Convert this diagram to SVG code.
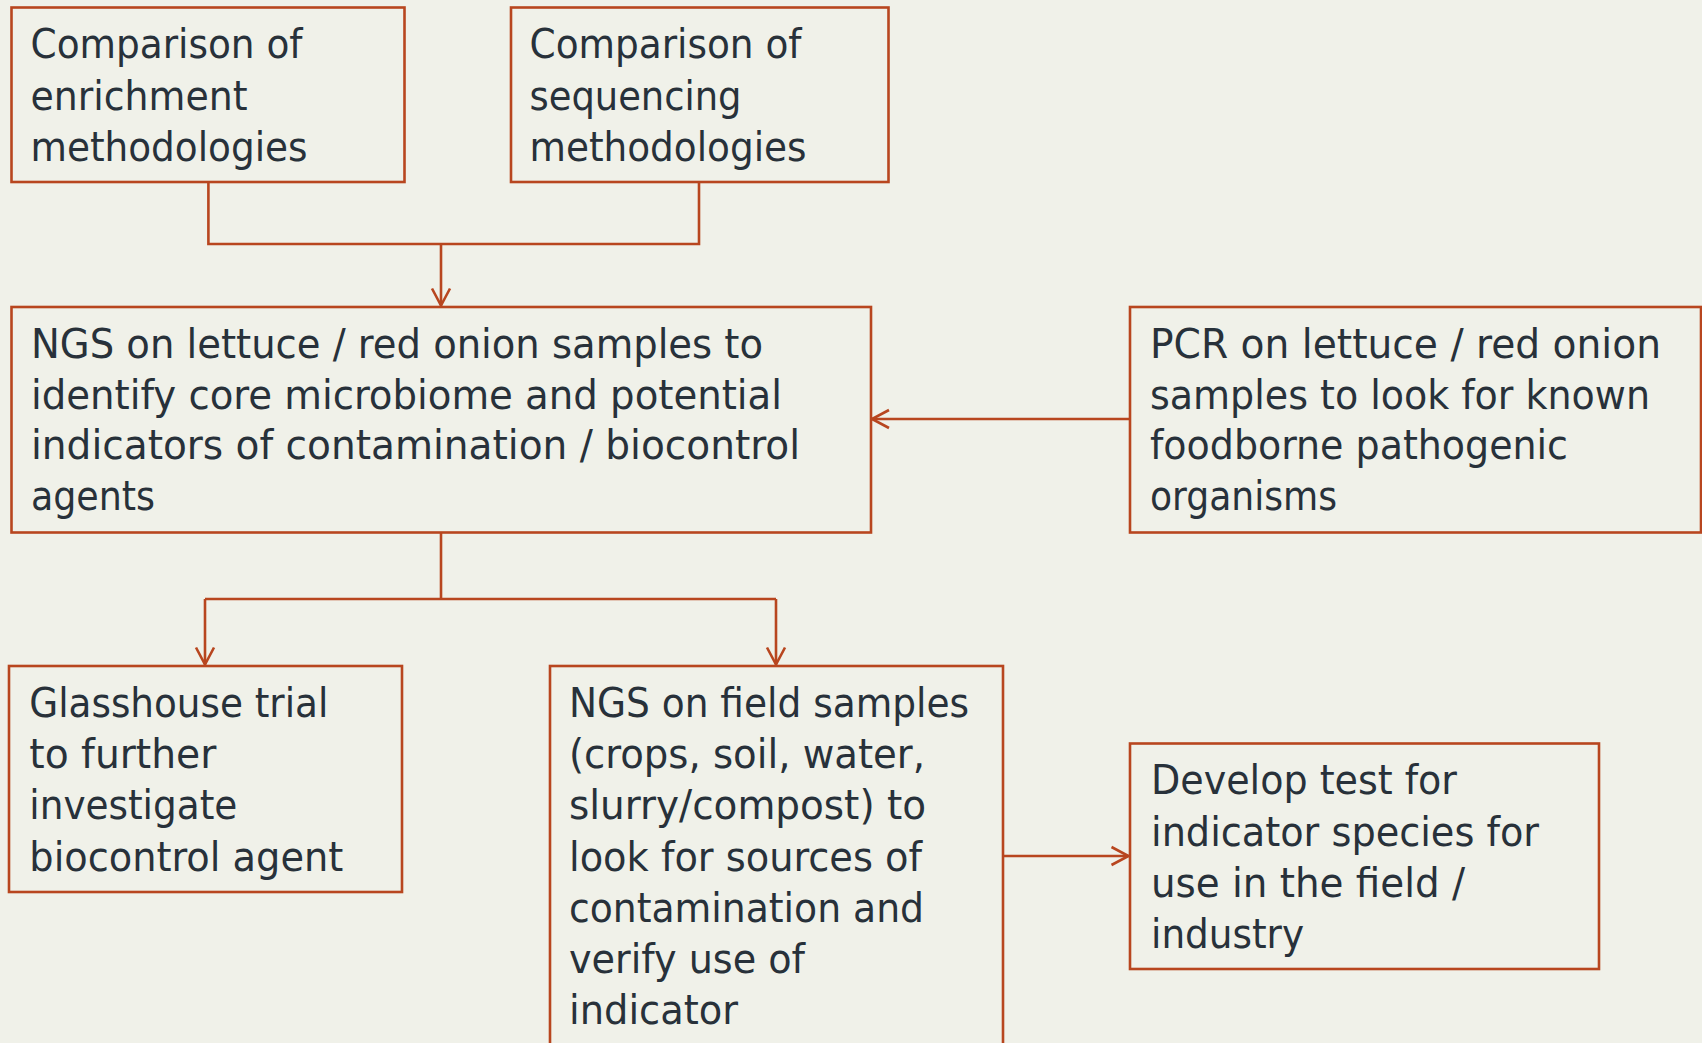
<svg xmlns="http://www.w3.org/2000/svg" width="1702" height="1043" viewBox="0 0 1702 1043">
<style>
.box{fill:#F0F1E9;stroke:#B8461F;stroke-width:2.6}
.t{font-family:"DejaVu Sans Condensed","DejaVu Sans","Liberation Sans",sans-serif;font-stretch:condensed;font-size:40px;fill:#28313A}
.c{fill:none;stroke:#B8461F;stroke-width:2.6}
</style>
<defs>
<marker id="ah" markerUnits="userSpaceOnUse" markerWidth="24" markerHeight="24" viewBox="-20 -12 24 24" refX="0" refY="0" orient="auto">
<path d="M-17,-9 L0,0 L-17,9" fill="none" stroke="#B8461F" stroke-width="2.6"/>
</marker>
</defs>
<rect width="1702" height="1043" fill="#F0F1E9"/>
<g id="connectors">
<path class="c" d="M208.4,182 V244 H699 V182"/>
<path class="c" d="M441,244 V305.5" marker-end="url(#ah)"/>
<path class="c" d="M1130,419 H872" marker-end="url(#ah)"/>
<path class="c" d="M441,532 V599"/>
<path class="c" d="M205,599 H776"/>
<path class="c" d="M205,599 V664.5" marker-end="url(#ah)"/>
<path class="c" d="M776,599 V664.5" marker-end="url(#ah)"/>
<path class="c" d="M1003,856 H1128.5" marker-end="url(#ah)"/>
</g>
<g id="n1">
<rect class="box" x="11.5" y="7.5" width="393" height="174.5"/>
<text class="t"><tspan x="30.5" y="58" textLength="272" lengthAdjust="spacingAndGlyphs">Comparison of</tspan><tspan x="30.5" y="110" textLength="217" lengthAdjust="spacingAndGlyphs">enrichment</tspan><tspan x="30.5" y="161" textLength="277" lengthAdjust="spacingAndGlyphs">methodologies</tspan></text>
</g>
<g id="n2">
<rect class="box" x="511" y="7.5" width="377.5" height="174.5"/>
<text class="t"><tspan x="529.5" y="58" textLength="272" lengthAdjust="spacingAndGlyphs">Comparison of</tspan><tspan x="529.5" y="110" textLength="212" lengthAdjust="spacingAndGlyphs">sequencing</tspan><tspan x="529.5" y="161" textLength="277" lengthAdjust="spacingAndGlyphs">methodologies</tspan></text>
</g>
<g id="n3">
<rect class="box" x="11.5" y="307" width="859.5" height="225.5"/>
<text class="t"><tspan x="31" y="358" textLength="732" lengthAdjust="spacingAndGlyphs">NGS on lettuce / red onion samples to</tspan><tspan x="31" y="408.5" textLength="751" lengthAdjust="spacingAndGlyphs">identify core microbiome and potential</tspan><tspan x="31" y="459" textLength="769" lengthAdjust="spacingAndGlyphs">indicators of contamination / biocontrol</tspan><tspan x="31" y="510" textLength="124" lengthAdjust="spacingAndGlyphs">agents</tspan></text>
</g>
<g id="n4">
<rect class="box" x="1130" y="307" width="571" height="225.5"/>
<text class="t"><tspan x="1150" y="358" textLength="511" lengthAdjust="spacingAndGlyphs">PCR on lettuce / red onion</tspan><tspan x="1150" y="408.5" textLength="500" lengthAdjust="spacingAndGlyphs">samples to look for known</tspan><tspan x="1150" y="459" textLength="418" lengthAdjust="spacingAndGlyphs">foodborne pathogenic</tspan><tspan x="1150" y="510" textLength="187" lengthAdjust="spacingAndGlyphs">organisms</tspan></text>
</g>
<g id="n5">
<rect class="box" x="9" y="666" width="393" height="226"/>
<text class="t"><tspan x="29.3" y="716.7" textLength="299" lengthAdjust="spacingAndGlyphs">Glasshouse trial</tspan><tspan x="29.3" y="768" textLength="187" lengthAdjust="spacingAndGlyphs">to further</tspan><tspan x="29.3" y="819.3" textLength="208" lengthAdjust="spacingAndGlyphs">investigate</tspan><tspan x="29.3" y="870.6" textLength="314" lengthAdjust="spacingAndGlyphs">biocontrol agent</tspan></text>
</g>
<g id="n6">
<rect class="box" x="550" y="666" width="453" height="400"/>
<text class="t"><tspan x="569" y="716.7" textLength="400" lengthAdjust="spacingAndGlyphs">NGS on field samples</tspan><tspan x="569" y="768" textLength="356" lengthAdjust="spacingAndGlyphs">(crops, soil, water,</tspan><tspan x="569" y="819.3" textLength="357" lengthAdjust="spacingAndGlyphs">slurry/compost) to</tspan><tspan x="569" y="870.6" textLength="353" lengthAdjust="spacingAndGlyphs">look for sources of</tspan><tspan x="569" y="922" textLength="355" lengthAdjust="spacingAndGlyphs">contamination and</tspan><tspan x="569" y="973.2" textLength="236" lengthAdjust="spacingAndGlyphs">verify use of</tspan><tspan x="569" y="1024" textLength="169" lengthAdjust="spacingAndGlyphs">indicator</tspan></text>
</g>
<g id="n7">
<rect class="box" x="1130" y="743.5" width="469" height="225.5"/>
<text class="t"><tspan x="1151" y="794" textLength="306" lengthAdjust="spacingAndGlyphs">Develop test for</tspan><tspan x="1151" y="846" textLength="388" lengthAdjust="spacingAndGlyphs">indicator species for</tspan><tspan x="1151" y="897" textLength="314" lengthAdjust="spacingAndGlyphs">use in the field /</tspan><tspan x="1151" y="948" textLength="153" lengthAdjust="spacingAndGlyphs">industry</tspan></text>
</g>
</svg>
